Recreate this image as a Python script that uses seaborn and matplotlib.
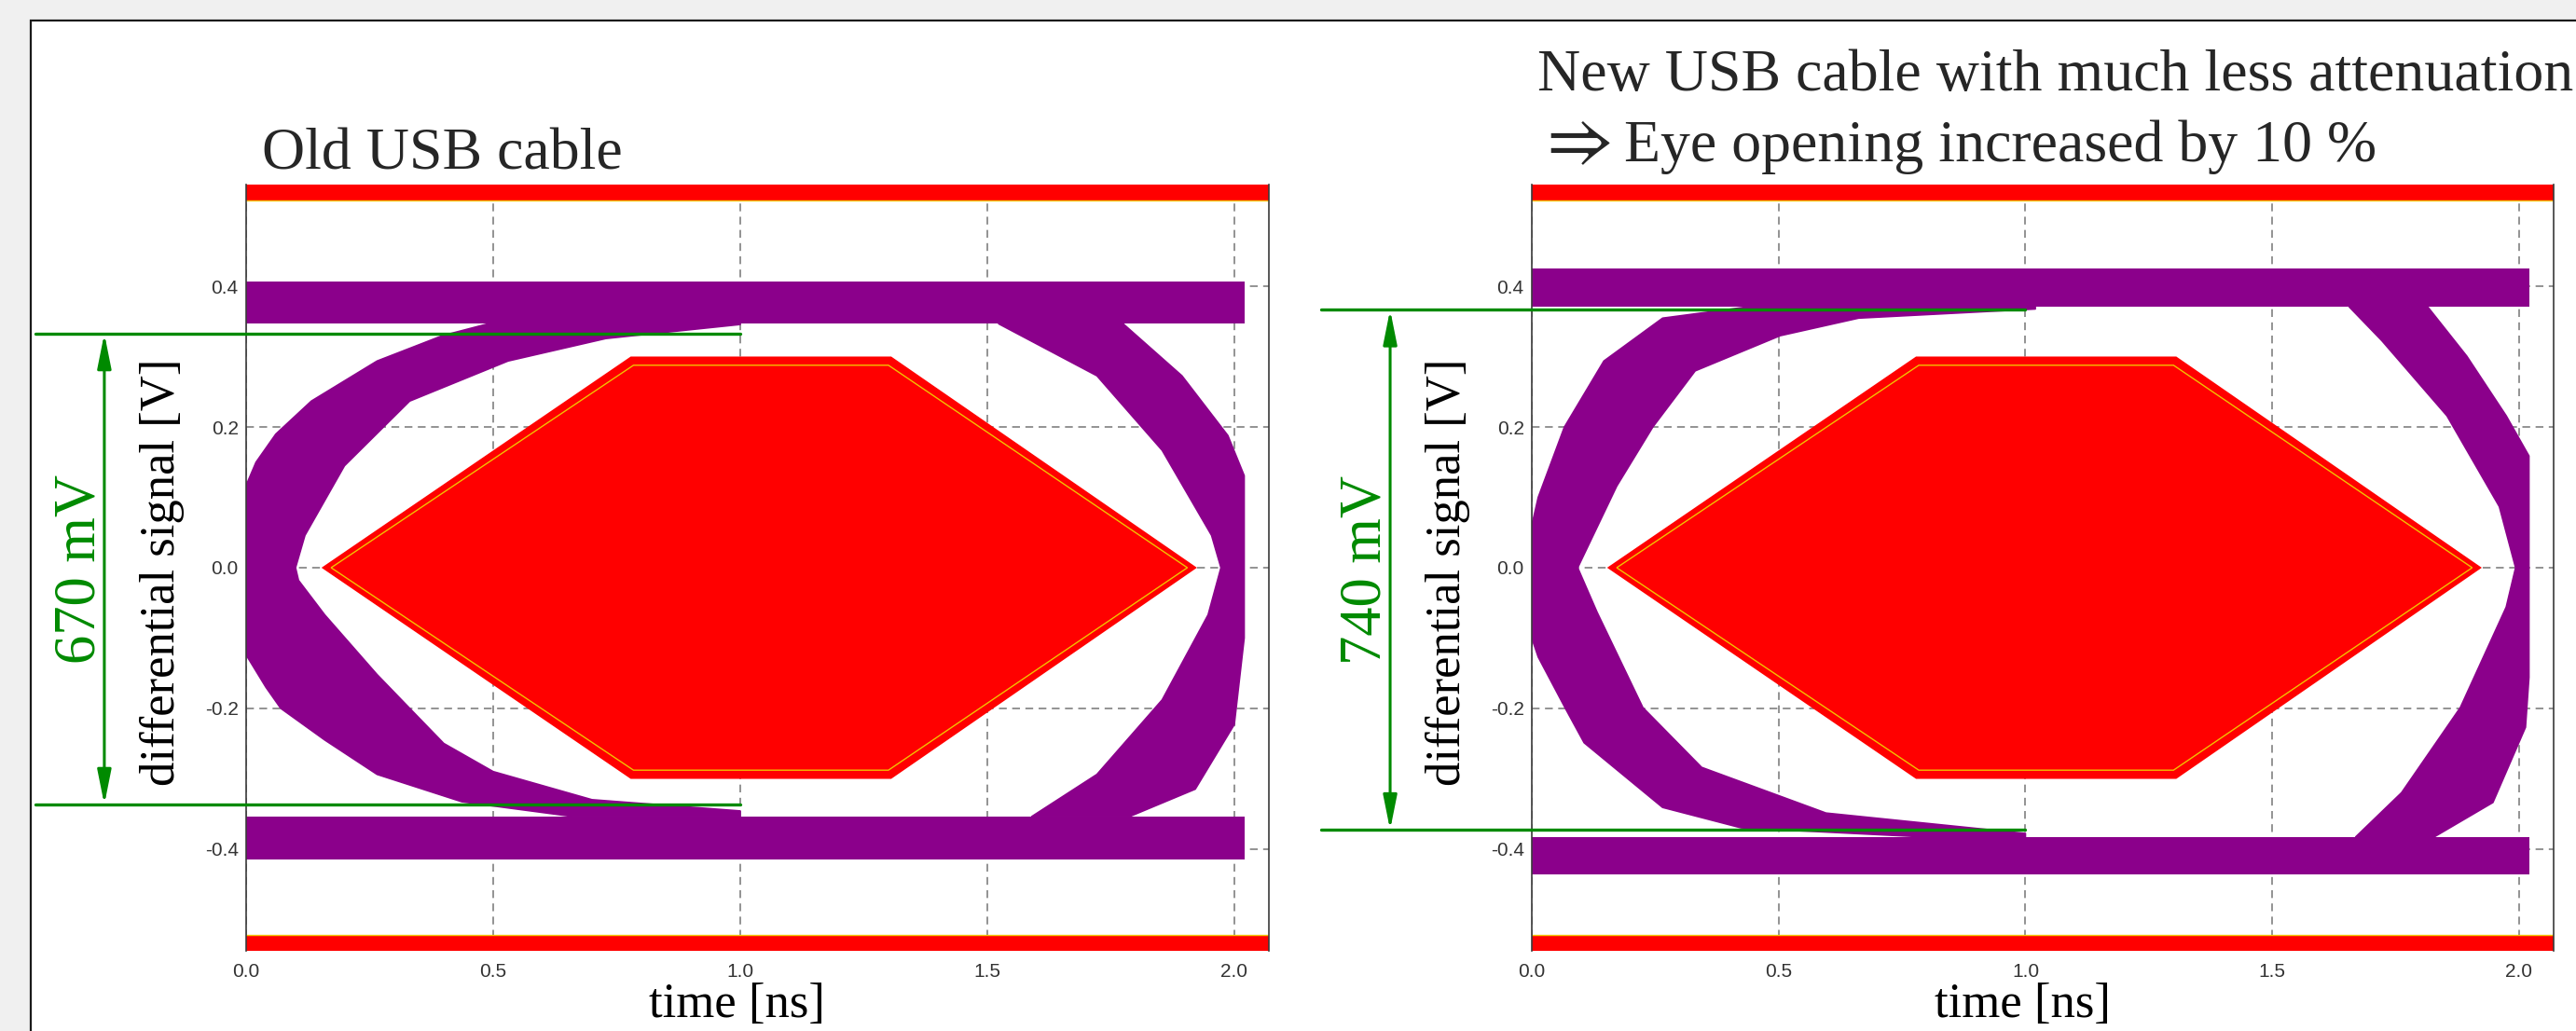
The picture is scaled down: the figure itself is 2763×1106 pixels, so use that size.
import matplotlib
matplotlib.use("Agg")
import matplotlib.pyplot as plt
import seaborn as sns
import numpy as np
from matplotlib.patches import Rectangle

# ---- values (time in ns, signal in V) ----
x_ticks = [0.0, 0.5, 1.0, 1.5, 2.0]
x_ticklabels = ["0.0", "0.5", "1.0", "1.5", "2.0"]
y_ticks = [0.4, 0.2, 0.0, -0.2, -0.4]
y_ticklabels = ["0.4", "0.2", "0.0", "-0.2", "-0.4"]

# eye mask (hexagon) and the inner yellow outline
mask_t = [0.156, 0.779, 1.305, 1.921, 1.305, 0.779]
mask_v = [0.0, 0.299, 0.299, 0.0, -0.299, -0.299]
mask_inner_t = [0.172, 0.784, 1.300, 1.905, 1.300, 0.784]
mask_inner_v = [0.0, 0.288, 0.288, 0.0, -0.288, -0.288]
limit_v = 0.523

# old cable
old_upper_rail = [0.347, 0.407]
old_lower_rail = [-0.415, -0.354]
old_left_lobe_t = [0.49, 0.397, 0.265, 0.132, 0.06, 0.02, 0.0, 0.0, 0.04, 0.07, 0.159,
                   0.265, 0.437, 0.662, 1.0, 1.0, 0.70, 0.50, 0.40, 0.331, 0.265, 0.159,
                   0.106, 0.10, 0.119, 0.199, 0.331, 0.53, 0.728, 1.0, 1.0]
old_left_lobe_v = [0.347, 0.33, 0.294, 0.237, 0.19, 0.15, 0.117, -0.124, -0.17, -0.2, -0.245,
                   -0.294, -0.333, -0.354, -0.354, -0.346, -0.33, -0.29, -0.25, -0.2, -0.152, -0.067,
                   -0.018, 0.0, 0.046, 0.145, 0.237, 0.294, 0.326, 0.346, 0.347]
old_right_lobe_t = [1.775, 1.894, 1.987, 2.02, 2.02, 2.0, 1.921, 1.788, 1.59, 1.722,
                    1.854, 1.947, 1.973, 1.954, 1.854, 1.722, 1.523]
old_right_lobe_v = [0.347, 0.273, 0.188, 0.131, -0.10, -0.223, -0.315, -0.354, -0.354, -0.294,
                    -0.188, -0.067, 0.0, 0.046, 0.167, 0.273, 0.347]

# new cable
new_upper_rail = [0.371, 0.426]
new_lower_rail = [-0.436, -0.383]
new_left_lobe_t = [0.437, 0.265, 0.146, 0.066, 0.013, 0.0, 0.0, 0.013, 0.068, 0.106, 0.265,
                   0.424, 0.795, 1.0, 1.0, 0.596, 0.344, 0.225, 0.132, 0.093, 0.172, 0.245,
                   0.331, 0.503, 0.662, 1.02, 1.02]
new_left_lobe_v = [0.371, 0.355, 0.294, 0.2, 0.1, 0.06, -0.10, -0.127, -0.2, -0.249, -0.341,
                   -0.37, -0.383, -0.383, -0.378, -0.349, -0.284, -0.199, -0.063, 0.0, 0.116, 0.2,
                   0.28, 0.33, 0.355, 0.368, 0.371]
new_right_lobe_t = [1.815, 1.894, 1.974, 2.02, 2.02, 2.013, 1.947, 1.828, 1.669, 1.762,
                    1.881, 1.974, 1.993, 1.96, 1.854, 1.722, 1.656]
new_right_lobe_v = [0.371, 0.301, 0.216, 0.159, -0.156, -0.227, -0.334, -0.383, -0.383, -0.32,
                    -0.199, -0.056, 0.0, 0.087, 0.216, 0.323, 0.371]

rail_end = 2.02

eye_labels = ["670 mV", "740 mV"]
eye_top = [0.333, 0.367]
eye_height = [0.670, 0.740]

# ---- style ----
sns.set_theme(style="white")
plt.rcParams['font.family'] = ['Liberation Serif', 'DejaVu Serif']
plt.rcParams['mathtext.fontset'] = 'stix'
plt.rcParams['axes.unicode_minus'] = False

purple = '#8b008b'
green = '#008a00'
red = '#ff0000'
yellow = '#f2c200'

W, H = 2763, 1106
fig = plt.figure(figsize=(W / 100, H / 100), dpi=100, facecolor='#f0f0f0')
fig.patches.append(Rectangle((33 / W, -0.01), 1.0, 1 - 22 / H + 0.01, transform=fig.transFigure,
                             facecolor='white', edgecolor='#1a1a1a', lw=1.6, zorder=-1))

ax_old = fig.add_axes([264 / W, 1 - 1020 / H, 1097 / W, 822 / H])
ax_new = fig.add_axes([1643 / W, 1 - 1020 / H, 1096 / W, 822 / H])

panels = [
    (ax_old, old_upper_rail, old_lower_rail,
     [(old_left_lobe_t, old_left_lobe_v), (old_right_lobe_t, old_right_lobe_v)]),
    (ax_new, new_upper_rail, new_lower_rail,
     [(new_left_lobe_t, new_left_lobe_v), (new_right_lobe_t, new_right_lobe_v)]),
]

for i, (ax, up, lo, lobes) in enumerate(panels):
    ax.set_facecolor('white')
    ax.set_xlim(0, 2.07)
    ax.set_ylim(-0.545, 0.545)
    ax.set_axisbelow(True)
    ax.grid(True, color='#808080', lw=1.2, ls=(0, (5, 3.5)))

    # signal traces (envelopes)
    ax.fill_between([0, rail_end], up[0], up[1], color=purple, lw=0, zorder=2)
    ax.fill_between([0, rail_end], lo[0], lo[1], color=purple, lw=0, zorder=2)
    for lt, lv in lobes:
        ax.fill(lt, lv, color=purple, lw=0, zorder=2)
        sns.lineplot(x=lt + [lt[0]], y=lv + [lv[0]], sort=False, estimator=None,
                     color=purple, lw=1.2, ax=ax, zorder=2)

    # mask
    ax.fill(mask_t, mask_v, facecolor=red, edgecolor=red, lw=1.5, zorder=3)
    ax.fill(mask_inner_t, mask_inner_v, facecolor='none', edgecolor=yellow, lw=1.0, zorder=3)
    ax.axhspan(limit_v, 0.545, color=red, lw=0, zorder=3)
    ax.axhspan(-0.545, -limit_v, color=red, lw=0, zorder=3)
    ax.axhline(limit_v, color=yellow, lw=1.0, zorder=3)
    ax.axhline(-limit_v, color=yellow, lw=1.0, zorder=3)

    # eye opening marker
    top = eye_top[i]
    bot = top - eye_height[i]
    for yv in (top, bot):
        ax.plot([-0.427, 1.0], [yv, yv], color=green, lw=2.4, clip_on=False, zorder=5)
    ax.annotate('', xy=(-0.287, top), xytext=(-0.287, bot), annotation_clip=False,
                arrowprops=dict(arrowstyle='<|-|>,head_length=0.8,head_width=0.16', color=green,
                                lw=2.2, mutation_scale=28, shrinkA=0, shrinkB=0))
    ax.text(-0.335, (top + bot) / 2, eye_labels[i], rotation=90, ha='center', va='center',
            color=green, fontsize=45)

    ax.set_xticks(x_ticks)
    ax.set_xticklabels(x_ticklabels)
    ax.set_yticks(y_ticks)
    ax.set_yticklabels(y_ticklabels)
    ax.tick_params(axis='both', length=0, labelsize=15, labelcolor='#333333')
    ax.tick_params(axis='x', pad=9)
    ax.tick_params(axis='y', pad=6)
    for lbl in ax.get_xticklabels() + ax.get_yticklabels():
        lbl.set_fontfamily('Liberation Sans')
    ax.set_xlabel('')
    ax.set_ylabel('')

    for side in ['top', 'bottom']:
        ax.spines[side].set_visible(False)
    for side in ['left', 'right']:
        ax.spines[side].set_color('#3a3a3a')
        ax.spines[side].set_linewidth(1.2)
        ax.spines[side].set_zorder(4)

    ax.text(-0.082, 0.494, 'differential signal [V]', transform=ax.transAxes, rotation=90,
            ha='center', va='center', fontsize=38, color='black')
    ax.text(0.48, -0.071, 'time [ns]', transform=ax.transAxes,
            ha='center', va='center', fontsize=38, color='black')

fig.text(281 / W, 1 - 182 / H, 'Old USB cable', fontsize=46, va='baseline', ha='left')
fig.text(1649 / W, 1 - 97 / H, 'New USB cable with much less attenuation',
         fontsize=46, va='baseline', ha='left')
fig.text(1647 / W, 1 - 173 / H, r'$\Rightarrow$', fontsize=56, va='baseline', ha='left')
fig.text(1742 / W, 1 - 173 / H, 'Eye opening increased by 10 %',
         fontsize=46, va='baseline', ha='left')

fig.savefig('out.png', dpi=100, facecolor=fig.get_facecolor())
